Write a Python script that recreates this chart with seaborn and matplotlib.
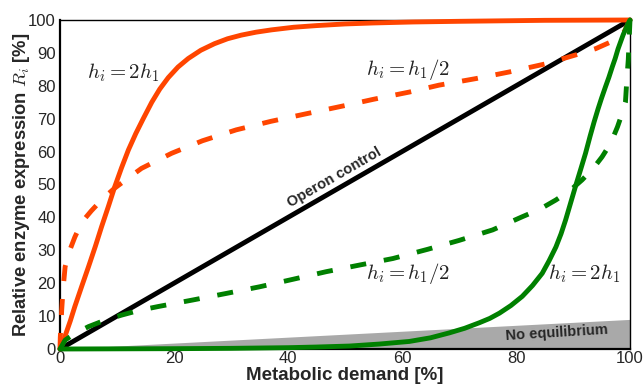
import numpy as np
import pandas as pd
import matplotlib
matplotlib.use("Agg")
import matplotlib.pyplot as plt
import seaborn as sns

# ---- data ----
red_solid_x = [0, 0.5, 1.0, 1.8, 2.6, 3.8, 5.0, 6.2, 7.3, 8.5, 9.6, 10.8, 12.0, 13.3, 14.6, 16.1, 17.5,
               19.0, 20.7, 22.5, 24.7, 27.1, 29.4, 31.8, 34.4, 37.1, 41, 45, 50, 55, 62, 70, 85, 100]
red_solid_y = [0, 1.8, 4.5, 8.5, 12.9, 19, 25, 31.2, 37.2, 43.4, 49.3, 55.1, 60.5, 65.5, 70.0, 75.0, 79.0,
               82.5, 85.7, 88.3, 90.8, 92.8, 94.3, 95.4, 96.3, 97.0, 97.8, 98.3, 98.8, 99.1, 99.4, 99.6, 99.9, 100]

red_dash_x = [0, 0.05, 0.15, 0.3, 0.55, 0.9, 1.6, 2.6, 3.8, 5.5, 7.5, 9.6, 12, 14.3, 19.6, 25, 30.9, 37,
              43.2, 50, 55, 61.3, 66.5, 73, 78.8, 85, 90.5, 94, 97.5, 99, 100]
red_dash_y = [0, 3.5, 6.5, 11.9, 18.5, 25, 29.5, 34, 38.5, 42, 45.7, 48.9, 52, 54.9, 59.5, 63.3, 66.6, 69.2,
              71.5, 74.0, 75.9, 78.1, 80.2, 82.2, 84.2, 86.6, 89.4, 91.3, 94, 96.5, 100]

green_solid_x = [0, 10, 20, 30, 40, 45, 50.8, 56, 61.3, 65, 68.3, 71, 73.6, 75.4, 77.1, 79.1, 81.1, 82.9,
                 84.6, 85.8, 87, 87.9, 88.7, 89.6, 90.5, 91.4, 92.2, 93.0, 93.7, 94.4, 95, 95.7, 96.3,
                 96.9, 97.4, 97.9, 98.4, 98.8, 99.2, 99.6, 100]
green_solid_y = [0, 0.05, 0.1, 0.2, 0.4, 0.6, 0.9, 1.5, 2.3, 3.4, 4.9, 6.3, 8, 9.3, 10.9, 13.2, 16.0, 19.3,
                 23, 26.8, 31.0, 35.0, 39.2, 44.5, 49.8, 54.9, 59.5, 64.7, 69.0, 73.0, 76.2, 79.7, 82.6,
                 85.8, 88.3, 91.2, 93.6, 95.5, 97.1, 98.7, 100]

green_dash_x = [0, 0.9, 2.5, 5, 7.8, 10.8, 13.8, 17.2, 23.3, 29.2, 35, 40.9, 46.7, 52.5, 58.4, 64.5, 70,
                75.9, 81.1, 84.2, 87, 89.5, 91.6, 93.5, 95.1, 96.6, 97.8, 98.6, 99.2, 99.45, 99.7, 99.85, 100]
green_dash_y = [0, 2.7, 4.6, 6.8, 8.7, 10.3, 11.7, 12.9, 14.9, 16.9, 18.9, 21.2, 23.5, 25.5, 27.5, 30.3, 33,
                36.2, 40.2, 42.5, 45.3, 48.2, 51.4, 54.8, 58.4, 62.5, 67.5, 71.5, 75, 82, 88, 94, 100]

operon_x = [0, 100]
operon_y = [0, 100]

gray_x = [0, 100]
gray_top = [0, 9]

x_ticks = [0, 20, 40, 60, 80, 100]
y_ticks = [0, 10, 20, 30, 40, 50, 60, 70, 80, 90, 100]

# ---- styling ----
sns.set_style("white")
plt.rcParams['font.family'] = ['Liberation Sans', 'DejaVu Sans']
plt.rcParams['mathtext.fontset'] = 'cm'

RED = "#ff4500"
GREEN = "#008000"

fig = plt.figure(figsize=(6.43, 3.85), dpi=100)
ax = fig.add_axes([60/643, 1 - 349/385, 570/643, 329/385])

ax.fill_between(gray_x, 0, gray_top, color="#a9a9a9", lw=0, zorder=1)

common = dict(ax=ax, lw=3.5, clip_on=False, zorder=4, estimator=None, sort=False,
              solid_joinstyle='round', dash_joinstyle='round')
DASH = (0, (3.3, 3.7))
sns.lineplot(x=operon_x, y=operon_y, color="black", **common)
sns.lineplot(x=red_solid_x, y=red_solid_y, color=RED, **common)
sns.lineplot(x=red_dash_x, y=red_dash_y, color=RED, linestyle=DASH, **common)
sns.lineplot(x=green_solid_x, y=green_solid_y, color=GREEN, **common)
sns.lineplot(x=green_dash_x, y=green_dash_y, color=GREEN, linestyle=DASH, **common)

ax.set_xlim(0, 100)
ax.set_ylim(0, 100)
ax.set_xticks(x_ticks)
ax.set_yticks(y_ticks)
ax.tick_params(length=0, labelsize=12)
ax.tick_params(axis='y', pad=3)
ax.tick_params(axis='x', pad=1.5)

for s in ['left', 'bottom']:
    ax.spines[s].set_linewidth(1.6)
for s in ['top', 'right']:
    ax.spines[s].set_linewidth(1.0)
for s in ax.spines.values():
    s.set_color("black")

ax.set_xlabel("Metabolic demand [%]", fontsize=13.5, fontweight='bold', labelpad=1)
ax.set_ylabel("Relative enzyme expression $R_i$ [%]", fontsize=13.2, fontweight='bold', labelpad=-3)

ax.text(11, 84, r"$h_i = 2h_1$", fontsize=15, ha='center', va='center', color='#222222')
ax.text(61, 85, r"$h_i = h_1/2$", fontsize=15, ha='center', va='center', color='#222222')
ax.text(61.1, 23, r"$h_i = h_1/2$", fontsize=15, ha='center', va='center', color='#222222')
ax.text(92, 23, r"$h_i = 2h_1$", fontsize=15, ha='center', va='center', color='#222222')

ax.text(48.2, 52, "Operon control", fontsize=10.5, fontweight='bold', rotation=30,
        rotation_mode='anchor', ha='center', va='center', zorder=6)
ax.text(87.2, 4.9, "No equilibrium", fontsize=10.5, fontweight='bold', rotation=3.5,
        rotation_mode='anchor', ha='center', va='center', zorder=6)

fig.savefig("out.png", dpi=100)
